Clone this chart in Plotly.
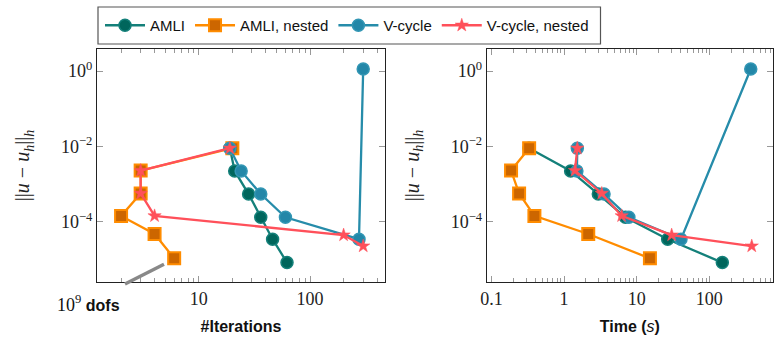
import plotly.graph_objects as go
from plotly.subplots import make_subplots

# ---- data: discretisation error per refinement level ----
iters_amli = [19, 21, 28, 36, 46, 62]
iters_amli_nested = [20, 3, 3, 2, 4, 6]
iters_vcycle = [19, 24, 36, 60, 275, 300]
iters_vcycle_nested = [19, 3, 3, 4, 200, 300]

time_amli = [0.33, 1.23, 2.96, 7.0, 26.7, 151]
time_amli_nested = [0.33, 0.186, 0.24, 0.39, 2.15, 15.2]
time_vcycle = [1.52, 1.50, 3.55, 7.8, 40.7, 372]
time_vcycle_nested = [1.52, 1.41, 3.30, 6.2, 30.3, 384]

err_amli = [9.0e-3, 2.25e-3, 5.5e-4, 1.33e-4, 3.5e-5, 8.4e-6]
err_amli_nested = [9.0e-3, 2.3e-3, 5.7e-4, 1.45e-4, 4.8e-5, 1.09e-5]
err_vcycle = [9.0e-3, 2.25e-3, 5.5e-4, 1.33e-4, 3.5e-5, 1.13]
err_vcycle_nested = [9.0e-3, 2.3e-3, 5.7e-4, 1.45e-4, 4.5e-5, 2.3e-5]

names = ["AMLI", "AMLI, nested", "V-cycle", "V-cycle, nested"]

y_tickvals = [1, 1e-2, 1e-4]
y_ticktext = ["10<sup>0</sup>", "10<sup>−2</sup>", "10<sup>−4</sup>"]
x_left_tickvals = [10, 100]
x_left_ticktext = ["10", "100"]
x_right_tickvals = [0.1, 1, 10, 100]
x_right_ticktext = ["0.1", "1", "10", "100"]

# ---- styling ----
SERIF = "Liberation Serif"
SANS = "Liberation Sans"
styles = [
    dict(line=dict(color="rgb(20,128,122)", width=2.3),
         marker=dict(symbol="circle", size=12, color="rgb(0,102,92)",
                     line=dict(color="rgb(20,128,122)", width=1.5))),
    dict(line=dict(color="rgb(255,140,0)", width=2.3),
         marker=dict(symbol="square", size=12, color="rgb(204,102,0)",
                     line=dict(color="rgb(255,140,0)", width=2))),
    dict(line=dict(color="rgb(38,140,170)", width=2.3),
         marker=dict(symbol="circle", size=12, color="rgb(35,135,168)",
                     line=dict(color="rgb(50,150,180)", width=1.5))),
    dict(line=dict(color="rgb(255,80,90)", width=2.3),
         marker=dict(symbol="star", size=10, color="rgb(255,80,90)",
                     line=dict(color="rgb(255,80,90)", width=0.5))),
]

fig = make_subplots(rows=1, cols=2)

left_x = [iters_amli, iters_amli_nested, iters_vcycle, iters_vcycle_nested]
right_x = [time_amli, time_amli_nested, time_vcycle, time_vcycle_nested]
errs = [err_amli, err_amli_nested, err_vcycle, err_vcycle_nested]

for i, name in enumerate(names):
    fig.add_trace(go.Scatter(x=left_x[i], y=errs[i], name=name, mode="lines+markers",
                             showlegend=True, cliponaxis=False, **styles[i]), row=1, col=1)
for i, name in enumerate(names):
    fig.add_trace(go.Scatter(x=right_x[i], y=errs[i], name=name, mode="lines+markers",
                             showlegend=False, cliponaxis=False, **styles[i]), row=1, col=2)

# page geometry (pixels)
W, H = 774, 338
L, R, T, B = 97, 773, 49, 282
pw, ph = R - L, B - T


def px(x):
    return (x - L) / pw


def py(y):
    return (B - y) / ph


def minor_vals(lo, hi):
    out = []
    d = lo
    while d < hi:
        out += [k * d for k in range(2, 10) if k * d <= hi]
        d *= 10
    return out


axis_common = dict(type="log", showline=True, linecolor="#222", linewidth=1,
                   mirror="allticks", ticks="inside", ticklen=6, tickwidth=1,
                   tickcolor="#999", showgrid=False, zeroline=False,
                   tickfont=dict(family=SERIF, size=18, color="#222"))

fig.update_xaxes(axis_common, row=1, col=1, domain=[0, px(385)],
                 range=[0.0847, 2.673], tickmode="array",
                 tickvals=x_left_tickvals, ticktext=x_left_ticktext,
                 minor=dict(ticks="inside", ticklen=4, tickcolor="#999",
                            tickmode="array", tickvals=minor_vals(1, 400)),
                 title=dict(text="<b>#Iterations</b>", standoff=13,
                            font=dict(family=SANS, size=16, color="#111")))
fig.update_xaxes(axis_common, row=1, col=2, domain=[px(486.7), 1],
                 range=[-1.066, 2.877], tickmode="array",
                 tickvals=x_right_tickvals, ticktext=x_right_ticktext,
                 minor=dict(ticks="inside", ticklen=4, tickcolor="#999",
                            tickmode="array", tickvals=minor_vals(0.1, 700)),
                 title=dict(text="<b>Time (</b><i>s</i><b>)</b>", standoff=13,
                            font=dict(family=SANS, size=16, color="#111")))

ytitle = "||<i>u</i> − <i>u</i><sub><i>h</i></sub>||<sub><i>h</i></sub>"
for c in (1, 2):
    fig.update_yaxes(axis_common, row=1, col=c, range=[-5.59, 0.583],
                     tickmode="array", tickvals=y_tickvals, ticktext=y_ticktext,
                     title=dict(text=ytitle, standoff=25,
                                font=dict(family=SERIF, size=20, color="#222")))

# "10^9 dofs" marker for the finest level
fig.add_shape(type="line", xref="paper", yref="paper",
              x0=px(125), y0=py(284), x1=px(164), y1=py(264.3),
              line=dict(color="#888", width=3.5))
fig.add_annotation(xref="paper", yref="paper", x=px(88), y=py(303),
                   text="<span style='font-family:Liberation Serif;font-size:18px'>10<sup>9</sup></span> <b>dofs</b>",
                   showarrow=False, xanchor="center", yanchor="middle",
                   font=dict(family=SANS, size=16, color="#111"))

# legend frame
fig.add_shape(type="rect", xref="paper", yref="paper",
              x0=px(98), y0=py(44), x1=px(600.5), y1=py(7),
              line=dict(color="#555", width=1.2), fillcolor="white", layer="below")

fig.update_layout(
    width=W, height=H, margin=dict(l=L, r=W - R, t=T, b=H - B),
    plot_bgcolor="white", paper_bgcolor="white",
    legend=dict(orientation="h", x=px(100), y=py(25.5), xanchor="left", yanchor="middle",
                borderwidth=0, bgcolor="rgba(0,0,0,0)",
                font=dict(family=SANS, size=15, color="#111"),
                itemwidth=40, tracegroupgap=0),
)

fig.write_html("out.html")
